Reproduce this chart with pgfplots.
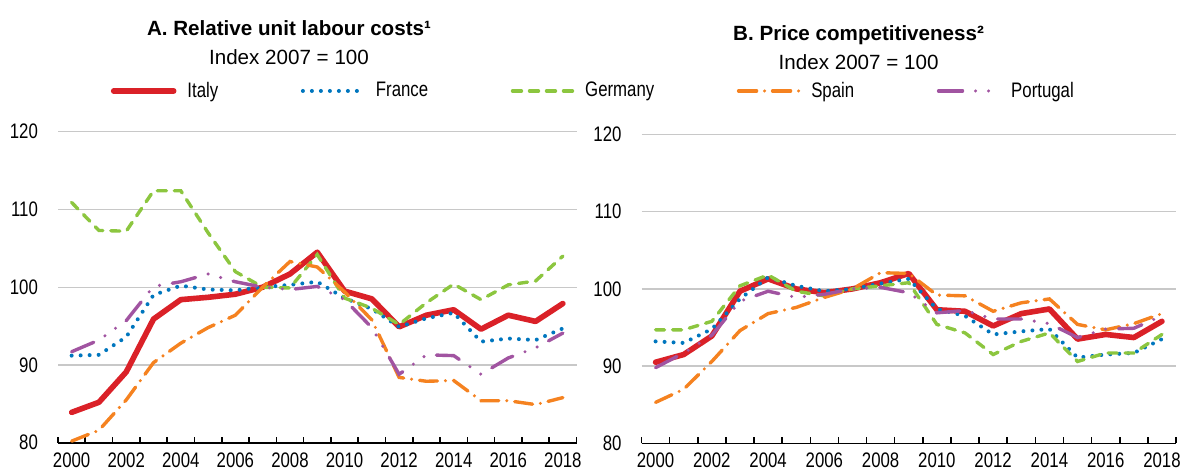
\documentclass[border=0pt]{standalone}
\usepackage{fontspec}
\setmainfont{Liberation Sans}
\newfontfamily\narrow{Liberation Sans}[FakeStretch=0.8]
\usepackage{pgfplots}
\usepackage{pgfplotstable}
\pgfplotsset{compat=1.18}

\definecolor{itred}{RGB}{218,33,40}
\definecolor{frblue}{RGB}{0,118,190}
\definecolor{degreen}{RGB}{140,198,63}
\definecolor{esorange}{RGB}{245,130,32}
\definecolor{ptpurple}{RGB}{161,84,161}
\definecolor{gridgray}{RGB}{200,200,200}

\pgfplotstableread{
year it fr de es pt
2000 83.9 91.2 110.9 80.2 91.7
2001 85.2 91.3 107.3 81.6 93.2
2002 89.1 93.6 107.2 85.5 95.7
2003 95.9 99.0 112.4 90.3 100.1
2004 98.4 100.2 112.4 92.8 100.7
2005 98.7 99.7 107.0 94.8 101.7
2006 99.1 99.6 102.0 96.4 100.7
2007 100.0 100.0 100.0 100.0 100.0
2008 101.7 100.3 99.9 103.3 99.7
2009 104.5 100.7 104.2 102.6 100.1
2010 99.5 98.6 98.6 99.4 98.4
2011 98.5 97.2 97.3 95.8 94.8
2012 94.9 94.9 95.2 88.4 88.8
2013 96.4 96.0 98.0 87.9 91.3
2014 97.1 96.7 100.4 88.0 91.2
2015 94.6 93.0 98.4 85.4 88.8
2016 96.4 93.4 100.3 85.4 90.9
2017 95.6 93.2 100.8 84.9 92.2
2018 97.9 94.7 104.0 85.8 94.1
}\ulc

\pgfplotstableread{
year it fr de es pt
2000 90.5 93.2 94.7 85.3 89.8
2001 91.5 93.0 94.7 87.0 91.7
2002 93.9 94.8 95.8 90.6 94.0
2003 99.7 98.7 100.4 94.6 98.4
2004 101.3 101.5 101.8 96.8 99.7
2005 100.0 100.4 99.7 97.6 98.9
2006 99.5 99.7 99.1 98.9 99.3
2007 100.0 100.0 100.0 100.0 100.0
2008 100.8 100.7 100.4 102.1 100.2
2009 102.0 101.3 100.8 102.0 99.5
2010 97.3 97.4 95.4 99.2 96.9
2011 97.1 96.5 94.3 99.1 97.2
2012 95.2 94.1 91.5 97.1 96.1
2013 96.8 94.5 93.2 98.2 96.1
2014 97.4 94.8 94.3 98.7 95.5
2015 93.5 91.1 90.6 95.4 93.7
2016 94.1 91.5 91.7 94.7 94.8
2017 93.7 91.7 91.7 95.5 94.9
2018 95.8 93.5 94.1 96.8 96.5
}\price

\pgfplotsset{
  panel/.style={
    scale only axis,
    xmin=1999.5, xmax=2018.5, ymin=80, ymax=120,
    xtick={2000,2002,...,2018},
    xticklabels={2000,2002,2004,2006,2008,2010,2012,2014,2016,2018},
    minor xtick={1999.5,2000.5,...,2018.5},
    ytick={80,90,100,110,120},
    major tick length=0pt, minor tick length=3pt, tick align=inside,
    axis x line*=bottom, axis y line*=left,
    x axis line style={-, line width=0.8pt, black},
    y axis line style={draw=none},
    minor x tick style={line width=0.8pt, black},
    ytick style={draw=none},
    ymajorgrids, grid style={line width=0.7pt, color=gridgray},
    /pgf/number format/assume math mode=true,
    ticklabel style={font=\narrow\fontsize{10.5}{12}\selectfont},
    yticklabel style={xshift=-6.5pt},
    xticklabel style={yshift=-1.3pt},
    no markers, sharp plot,
  },
  itstyle/.style={color=itred, line width=2.8pt, line join=round, line cap=round},
  frstyle/.style={color=frblue, line width=2pt, dash pattern=on 0pt off 4.5pt, line cap=round},
  destyle/.style={color=degreen, line width=1.7pt, dash pattern=on 4.5pt off 4pt, line cap=round},
  esstyle/.style={color=esorange, line width=1.7pt, dash pattern=on 9pt off 4pt on 0pt off 4pt, line cap=round},
  ptstyle/.style={color=ptpurple, line width=1.7pt, dash pattern=on 12pt off 6.5pt on 0pt off 6.5pt on 0pt off 6.5pt, line cap=round},
}

\begin{document}
\begin{tikzpicture}
\useasboundingbox (0pt,0pt) rectangle (590.5pt,235.5pt);

\node[anchor=base, font=\bfseries\fontsize{10.3}{12}\selectfont] at (144.5pt,217.65pt) {A. Relative unit labour costs¹};
\node[anchor=base, font=\fontsize{10.3}{12}\selectfont] at (144.5pt,203pt) {Index 2007 = 100};
\node[anchor=base, font=\bfseries\fontsize{10.3}{12}\selectfont] at (429.3pt,215.15pt) {B. Price competitiveness²};
\node[anchor=base, font=\fontsize{10.3}{12}\selectfont] at (429.3pt,200.5pt) {Index 2007 = 100};

\begin{axis}[panel, width=259.25pt, height=155.5pt, at={(29pt,14.15pt)}, anchor=south west,
  legend columns=5,
  legend image code/.code={\draw[#1] (0pt,0pt) -- (30pt,0pt);},
  legend style={draw=none, fill=none, inner sep=0pt, outer sep=0pt,
    at={(axis description cs:0.102,1.131)}, anchor=west,
    nodes={inner sep=0pt},
    font=\narrow\fontsize{10.5}{12}\selectfont,
    /tikz/every odd column/.append style={column sep=5.5pt},
    /tikz/every even column/.append style={column sep=41.3pt}},
]
\addplot[itstyle] table[x=year,y=it]{\ulc};
\addlegendentry{Italy}
\addplot[frstyle] table[x=year,y=fr]{\ulc};
\addlegendentry{France}
\addplot[destyle] table[x=year,y=de]{\ulc};
\addlegendentry{Germany}
\addplot[esstyle] table[x=year,y=es]{\ulc};
\addlegendentry{Spain}
\addplot[ptstyle] table[x=year,y=pt]{\ulc};
\addlegendentry{Portugal}
\end{axis}

\begin{axis}[panel, width=267.25pt, height=154.4pt, at={(320.75pt,13.85pt)}, anchor=south west]
\addplot[itstyle] table[x=year,y=it]{\price};
\addplot[frstyle] table[x=year,y=fr]{\price};
\addplot[destyle] table[x=year,y=de]{\price};
\addplot[esstyle] table[x=year,y=es]{\price};
\addplot[ptstyle] table[x=year,y=pt]{\price};
\end{axis}
\end{tikzpicture}
\end{document}
